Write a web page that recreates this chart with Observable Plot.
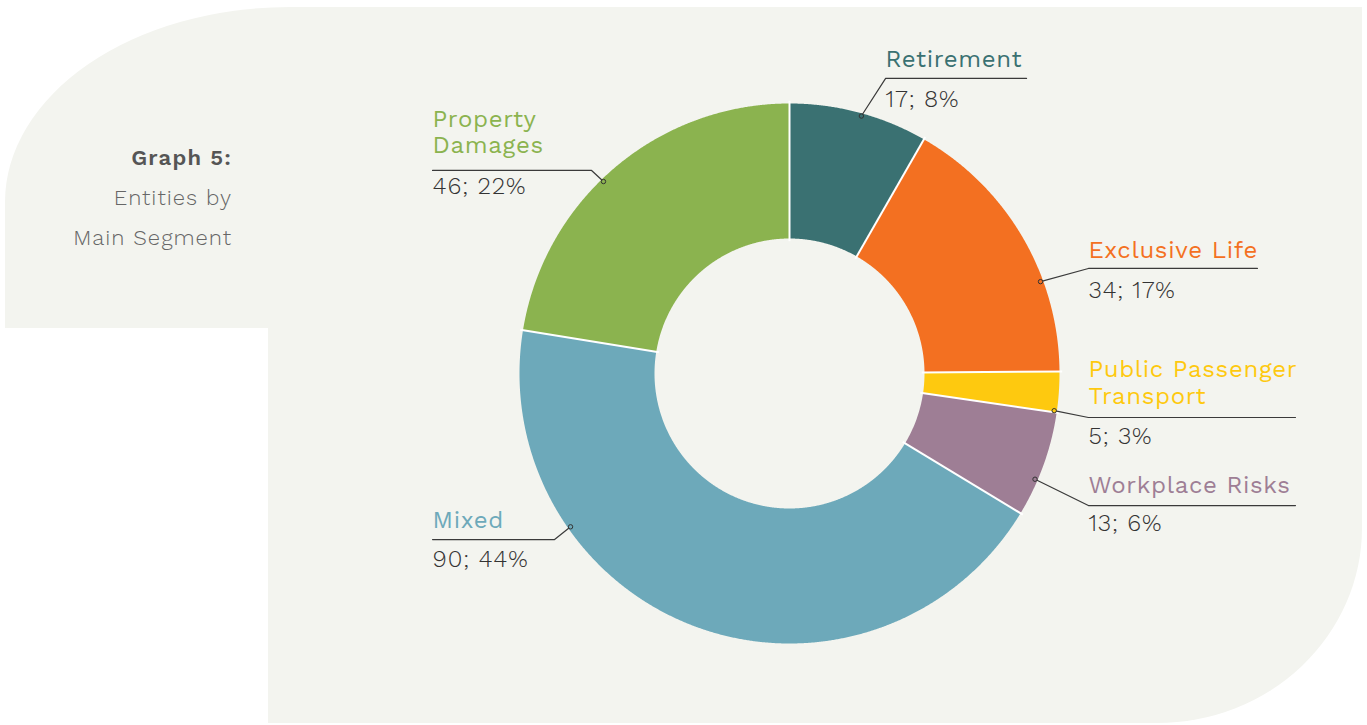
<!DOCTYPE html>
<html><head><meta charset="utf-8">
<script src="https://cdn.jsdelivr.net/npm/d3@7"></script>
<script src="https://cdn.jsdelivr.net/npm/@observablehq/plot@0.6"></script>
<style>
html,body{margin:0;padding:0;background:#fff;}
#wrap{position:relative;width:1367px;height:725px;overflow:hidden;font-family:"Work Sans",Inter,"Open Sans",sans-serif;}
#bg{position:absolute;left:5px;top:7px;width:1357px;height:716px;background:#f3f4ef;border-top-left-radius:285px 195px;border-bottom-right-radius:205px 195px;}
#cut{position:absolute;left:0;top:328px;width:268px;height:397px;background:#fff;}
#title{position:absolute;left:0;top:138px;width:232px;text-align:right;font-size:22px;letter-spacing:1px;line-height:40px;color:#666;font-weight:300;}
#title b{font-weight:600;color:#555;letter-spacing:1.2px;}
#chart{position:absolute;left:0;top:0;}
</style></head>
<body>
<div id="wrap">
  <div id="bg"></div>
  <div id="cut"></div>
  <div id="title"><b>Graph 5:</b><br>Entities by<br>Main Segment</div>
  <div id="chart"></div>
</div>
<script>
// ---- data ----
const segments = ["Retirement","Exclusive Life","Public Passenger Transport","Workplace Risks","Mixed","Property Damages"];
const entities = [17, 34, 5, 13, 90, 46];
const shares = [8, 17, 3, 6, 44, 22];
const labelLines = [["Retirement"],["Exclusive Life"],["Public Passenger","Transport"],["Workplace Risks"],["Mixed"],["Property","Damages"]];
const segmentColors = ["#3a7172","#f37021","#fec90f","#9e7e95","#6da9ba","#8bb34f"];

// ---- layout (units of outer radius; text offsets in px) ----
const R_OUT = 1, R_IN = 0.5;
const labelLayout = [
  {dotAngle: 15.6,  elbow: [0.356, 1.093],  endX: 0.878,  labelDy: -11, valueDy: 29},
  {dotAngle: 69.9,  elbow: [1.107, 0.389],  endX: 1.733,  labelDy: -10, valueDy: 30},
  {dotAngle: 98.0,  elbow: [1.107, -0.163], endX: 1.874,  labelDy: -14, valueDy: 26},
  {dotAngle: 113.3, elbow: [1.107, -0.489], endX: 1.874,  labelDy: -13, valueDy: 25},
  {dotAngle: 235.0, elbow: [-0.870, -0.615], endX: -1.322, labelDy: -12, valueDy: 27},
  {dotAngle: 315.9, elbow: [-0.733, 0.752], endX: -1.322, labelDy: -17, valueDy: 24}
];

const pie = d3.pie().sort(null).value(d => d)(entities);
const pt = (r, a) => [r * Math.sin(a), r * Math.cos(a)];

// slice polygons
const slicePts = [];
pie.forEach((p, i) => {
  const n = Math.max(8, Math.ceil((p.endAngle - p.startAngle) / 0.004));
  for (let k = 0; k <= n; k++) {
    const a = p.startAngle + (p.endAngle - p.startAngle) * k / n;
    const [x, y] = pt(R_OUT, a);
    slicePts.push({segment: segments[i], x, y});
  }
  for (let k = n; k >= 0; k--) {
    const a = p.startAngle + (p.endAngle - p.startAngle) * k / n;
    const [x, y] = pt(R_IN, a);
    slicePts.push({segment: segments[i], x, y});
  }
});
// separators
const seps = pie.map(p => {
  const [x1, y1] = pt(R_IN - 0.01, p.startAngle);
  const [x2, y2] = pt(R_OUT + 0.01, p.startAngle);
  return {x1, y1, x2, y2};
});
// leaders
const leaderPts = [], dots = [], labels = [], values = [];
segments.forEach((s, i) => {
  const L = labelLayout[i];
  const [dx, dy] = pt(0.99, L.dotAngle * Math.PI / 180);
  leaderPts.push({segment: s, x: dx, y: dy});
  leaderPts.push({segment: s, x: L.elbow[0], y: L.elbow[1]});
  leaderPts.push({segment: s, x: L.endX, y: L.elbow[1]});
  dots.push({segment: s, x: dx, y: dy});
  const tx = Math.min(L.elbow[0], L.endX);
  labels.push({segment: s, x: tx, y: L.elbow[1], text: labelLines[i].join("\n"), dy: L.labelDy});
  values.push({segment: s, x: tx, y: L.elbow[1], text: `${entities[i]}; ${shares[i]}%`, dy: L.valueDy});
});

const W = 1367, H = 725, PX = 270, CX = 789, CY = 373;
const font = '"Work Sans", Inter, "Open Sans", sans-serif';
const chart = Plot.plot({
  width: W, height: H,
  margin: 0,
  x: {axis: null, domain: [-CX / PX, (W - CX) / PX]},
  y: {axis: null, domain: [-(H - CY) / PX, CY / PX]},
  color: {domain: segments, range: segmentColors},
  style: {background: "transparent", fontFamily: font, overflow: "visible"},
  marks: [
    Plot.line(slicePts, {x: "x", y: "y", z: "segment", fill: "segment", stroke: null, curve: "linear-closed"}),
    Plot.link(seps, {x1: "x1", y1: "y1", x2: "x2", y2: "y2", stroke: "white", strokeWidth: 2}),
    Plot.line(leaderPts, {x: "x", y: "y", z: "segment", stroke: "#3a3a3a", strokeWidth: 1.2}),
    Plot.dot(dots, {x: "x", y: "y", r: 2.2, stroke: "#333", strokeWidth: 1, fill: "segment"}),
    ...labels.map(d => Plot.text([d], {x: "x", y: "y", text: "text", fill: "segment", textAnchor: "start", lineAnchor: "bottom", dy: d.dy, fontSize: 24, lineHeight: 1.12, fontWeight: 400, ariaDescription: "label"})),
    ...values.map(d => Plot.text([d], {x: "x", y: "y", text: "text", fill: "#333", textAnchor: "start", lineAnchor: "bottom", dy: d.dy, fontSize: 24, fontWeight: 300, ariaDescription: "value"}))
  ]
});
d3.select(chart).selectAll('g[aria-description="label"] text').style("letter-spacing", "0.65px");
d3.select(chart).selectAll('g[aria-description="value"] text').style("letter-spacing", "0.9px");
document.getElementById("chart").appendChild(chart);
</script>
</body></html>
